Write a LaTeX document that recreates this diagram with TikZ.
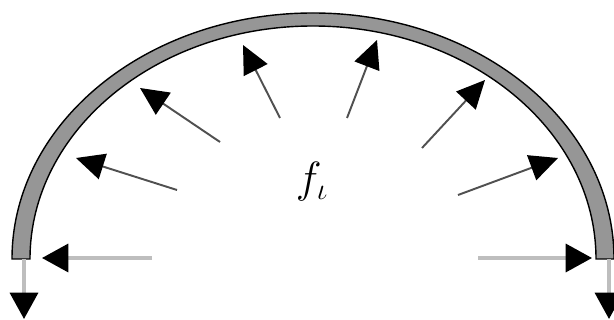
\documentclass[tikz,border=0pt]{standalone}
\usetikzlibrary{arrows.meta}
\definecolor{archgray}{RGB}{150,150,150}
\definecolor{pushgray}{RGB}{80,80,80}
\definecolor{endgray}{RGB}{190,190,190}
\tikzset{
  force/.style={draw=pushgray,line width=1.1pt,
    -{Triangle[length=16pt,width=15pt,color=black]}},
  reaction/.style={draw=endgray,line width=1.8pt,
    -{Triangle[length=15pt,width=16pt,color=black]}},
}
\begin{document}
\begin{tikzpicture}[x=0.02cm,y=0.02cm]
  \useasboundingbox (0,-61) rectangle (614,259);
  % arch
  \draw[fill=archgray,line width=0.8pt]
    (12,0) arc[start angle=180,end angle=0,x radius=301,y radius=246]
    -- (596,0) arc[start angle=0,end angle=180,x radius=283,y radius=233]
    -- cycle;
  % pressure on the arch
  \foreach \name/\tx/\ty/\hx/\hy in {a/177/69/76/101,b/220/117/140/171,
      c/280/141/243/214,d/347/141/377/219,e/422/111/485/179,f/458/64/558/101}{
    \coordinate (tail\name) at (\tx,\ty);
    \coordinate (head\name) at (\hx,\hy);
    \draw[force] (tail\name) -- (head\name);
  }
  % end forces
  \coordinate (leftin) at (152,1);
  \coordinate (lefttip) at (42,1);
  \coordinate (rightin) at (478,1);
  \coordinate (righttip) at (592,1);
  \coordinate (leftfoot) at (24,0);
  \coordinate (leftdown) at (24,-60);
  \coordinate (rightfoot) at (609,0);
  \coordinate (rightdown) at (609,-60);
  \draw[reaction] (leftin) -- (lefttip);
  \draw[reaction] (rightin) -- (righttip);
  \draw[reaction] (leftfoot) -- (leftdown);
  \draw[reaction] (rightfoot) -- (rightdown);
  \node (load) at (312,77) {\fontsize{25}{29}\selectfont$f_\iota$};
\end{tikzpicture}
\end{document}
